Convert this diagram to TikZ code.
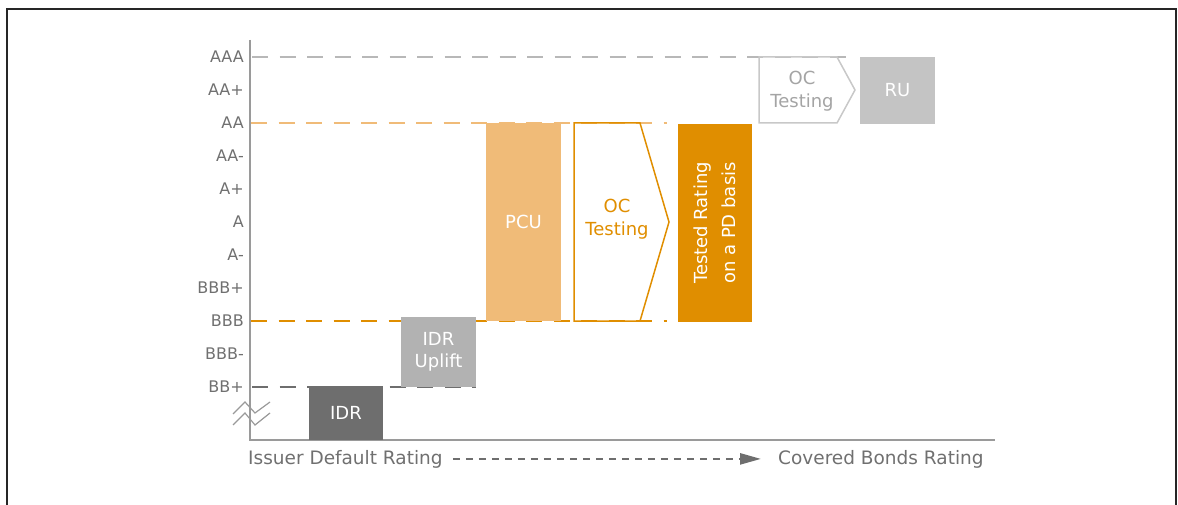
\documentclass[tikz,border=0pt]{standalone}
\usepackage{fontspec}
\setmainfont{DejaVu Sans}
\usetikzlibrary{positioning,arrows.meta,calc,backgrounds}
\definecolor{axisgray}{HTML}{9A9A9A}
\definecolor{txtgray}{HTML}{707070}
\definecolor{idr}{HTML}{6E6E6E}
\definecolor{uplift}{HTML}{B2B2B2}
\definecolor{ru}{HTML}{C4C4C4}
\definecolor{ocgray}{HTML}{C8C8C8}
\definecolor{ocgraytxt}{HTML}{A4A4A4}
\definecolor{pcu}{HTML}{F0BB78}
\definecolor{tested}{HTML}{E08E00}
\definecolor{aaa}{HTML}{B8B8B8}

\begin{document}
\begin{tikzpicture}[
  x=1pt, y=-1pt,
  rating/.style={anchor=east, inner sep=0pt, text=txtgray, font=\fontsize{16}{19}\selectfont},
  box/.style={inner sep=0pt, align=center, text=white, font=\fontsize{18}{22.5}\selectfont},
  lvl/.style={line width=2pt, dash pattern=on 16pt off 11.5pt},
  axis/.style={line width=2pt, axisgray},
  axlab/.style={anchor=base west, inner sep=0pt, text=txtgray, font=\fontsize{18.5}{22}\selectfont},
  flow/.style={-{Triangle[length=21pt, width=11pt]}, line width=2.5pt, idr, dash pattern=on 7pt off 6pt},
]
  \useasboundingbox (0,0) rectangle (1178,505);
  \draw[line width=1.5pt, black!85] (7,505) -- (7,9) -- (1176,9) -- (1176,505);

  % rating scale
  \foreach \r [count=\i from 0] in {AAA,AA+,AA,AA-,A+,A,A-,BBB+,BBB,BBB-,BB+}
    \node[rating] (r\i) at (244,{57+33*\i}) {\r};

  \coordinate (ytop) at (250,40);
  \coordinate (o) at (250,440);
  \coordinate (xend) at (995,440);
  \draw[axis] (ytop) -- (o) -- (xend);

  % axis break
  \draw[axisgray, line width=1.2pt] (233,414) -- (245,402) -- (255,413) -- (270,402);
  \draw[axisgray, line width=1.2pt] (233,425) -- (245,413) -- (255,425) -- (270,413);

  % issuer side
  \node[box, fill=idr, minimum width=74pt, minimum height=54pt] (idr) at (346,413) {IDR};
  \node[box, fill=uplift, minimum width=75pt, minimum height=70pt] (up) at (438.5,352) {IDR\\Uplift};
  \node[box, fill=pcu, minimum width=75pt, minimum height=198pt] (pcu) at (523.5,222) {PCU};

  % OC testing on a PD basis
  \node[box, text=tested] (oc) at (617,219) {OC\\Testing};
  \draw[tested, line width=1.5pt] (574,123) -- (640,123) -- (669,222) -- (640,321) -- (574,321) -- cycle;
  \node[box, fill=tested, rotate=90, minimum width=198pt, minimum height=74pt,
    font=\fontsize{18}{28}\selectfont] (tr) at (715,223) {Tested Rating\\on a PD basis};

  % OC testing up to RU
  \node[box, text=ocgraytxt] (ocg) at (802,91) {OC\\Testing};
  \draw[ocgray, line width=1.5pt] (759,57) -- (837,57) -- (855,90) -- (837,123) -- (759,123) -- cycle;
  \node[box, fill=ru, minimum width=75pt, minimum height=67pt] (ru) at (897.5,90.5) {RU};

  % dashed levels
  \begin{scope}[on background layer]
    \draw[lvl, aaa, shorten >=9pt] ([xshift=8pt]r0.east) -- (r0.east -| ru.west);
    \draw[lvl, pcu, shorten >=48pt] ([xshift=7pt]r2.east) -- (r2.east -| tr.center);
    \draw[lvl, tested, shorten >=48pt] ([xshift=7pt]r8.east) -- (r8.east -| tr.center);
    \draw[lvl, idr] ([xshift=8pt]r10.east) -- (r10.east -| up.east);
  \end{scope}

  % axis captions
  \node[axlab] (isl) at (248,464) {Issuer Default Rating};
  \node[axlab] (cbl) at (778,464) {Covered Bonds Rating};
  \draw[flow, shorten <=10pt, shorten >=17pt] (isl.east) -- (cbl.west);
\end{tikzpicture}
\end{document}
